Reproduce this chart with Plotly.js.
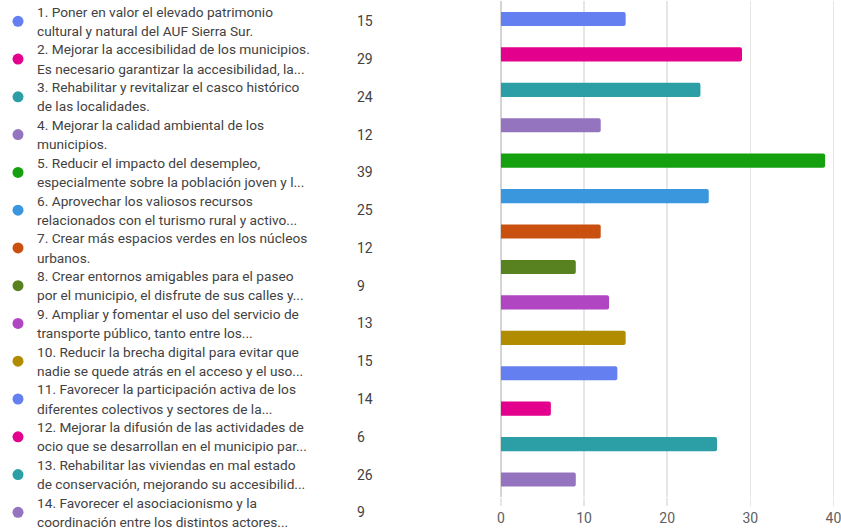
<!DOCTYPE html>
<html>
<head>
<meta charset="utf-8">
<script src="https://cdn.plot.ly/plotly-3.0.1.min.js"></script>
<style>html,body{margin:0;padding:0;background:#fff;}#chart{width:841px;height:531px;}</style>
</head>
<body>
<div id="chart"></div>
<script>
const labels = [
  "1. Poner en valor el elevado patrimonio<br>cultural y natural del AUF Sierra Sur.",
  "2. Mejorar la accesibilidad de los municipios.<br>Es necesario garantizar la accesibilidad, la...",
  "3. Rehabilitar y revitalizar el casco histórico<br>de las localidades.",
  "4. Mejorar la calidad ambiental de los<br>municipios.",
  "5. Reducir el impacto del desempleo,<br>especialmente sobre la población joven y l...",
  "6. Aprovechar los valiosos recursos<br>relacionados con el turismo rural y activo...",
  "7. Crear más espacios verdes en los núcleos<br>urbanos.",
  "8. Crear entornos amigables para el paseo<br>por el municipio, el disfrute de sus calles y...",
  "9. Ampliar y fomentar el uso del servicio de<br>transporte público, tanto entre los...",
  "10. Reducir la brecha digital para evitar que<br>nadie se quede atrás en el acceso y el uso...",
  "11. Favorecer la participación activa de los<br>diferentes colectivos y sectores de la...",
  "12. Mejorar la difusión de las actividades de<br>ocio que se desarrollan en el municipio par...",
  "13. Rehabilitar las viviendas en mal estado<br>de conservación, mejorando su accesibilid...",
  "14. Favorecer el asociacionismo y la<br>coordinación entre los distintos actores..."
];
const values = [15, 29, 24, 12, 39, 25, 12, 9, 13, 15, 14, 6, 26, 9];
const colors = ["#647FF0", "#E3008C", "#2C9FA6", "#9474BE", "#15A10F", "#3A96DD", "#C9500F",
                "#588220", "#B146C2", "#B18C00", "#647FF0", "#E3008C", "#2C9FA6", "#9474BE"];
const xTicks = [0, 10, 20, 30, 40];

const idx = values.map((v, i) => i);
const font = "Segoe UI, Roboto, 'Noto Sans', sans-serif";

const traces = [
  {
    type: "bar", orientation: "h",
    x: values, y: idx,
    marker: {color: colors, cornerradius: 2, line: {width: 0}},
    xaxis: "x", yaxis: "y",
    hoverinfo: "none"
  },
  {
    type: "scatter", mode: "markers",
    x: idx.map(() => 18), y: idx,
    marker: {color: colors, size: 11},
    xaxis: "x2", yaxis: "y2",
    hoverinfo: "none"
  }
];

const halfLine = 9.6 / 37.77;
const annotations = [];
labels.forEach((t, i) => {
  const lines = t.split("<br>");
  lines.forEach((ln, k) => {
    annotations.push({
      xref: "x2", yref: "y2", x: 35, y: i + (k === 0 ? -halfLine : halfLine), text: ln, showarrow: false,
      xanchor: "left", yanchor: "middle", align: "left",
      font: {family: font, size: 13.7, color: "#424242"}
    });
  });
  annotations.push({
    xref: "x2", yref: "y2", x: 355, y: i, text: String(values[i]), showarrow: false,
    xanchor: "left", yanchor: "middle", align: "left",
    font: {family: font, size: 14, color: "#424242"}
  });
});

const layout = {
  width: 841, height: 531,
  margin: {l: 0, r: 0, t: 0, b: 0},
  paper_bgcolor: "#fff", plot_bgcolor: "#fff",
  showlegend: false,
  bargap: 0.6,
  xaxis: {
    domain: [501/841, (501 + 83.1*4.03)/841], range: [0, 40.3], tickvals: xTicks,
    showgrid: true, gridcolor: "#e6e6e6", gridwidth: 1.5,
    zeroline: true, zerolinecolor: "#d4d4d4", zerolinewidth: 2,
    ticks: "outside", ticklen: 8, tickcolor: "#e6e6e6", tickwidth: 1.5,
    tickfont: {family: font, size: 14, color: "#616161"},
    ticklabeloverflow: "allow",
    automargin: false, fixedrange: true
  },
  yaxis: {
    domain: [(531-497.2)/531, (531-1.3)/531], range: [13.5, -0.5],
    showticklabels: false, showgrid: false, zeroline: false,
    automargin: false, fixedrange: true
  },
  xaxis2: {
    domain: [0, 496/841], range: [0, 496], visible: false, fixedrange: true
  },
  yaxis2: {
    domain: [0, 1], range: [13.495, -0.564], anchor: "x2", visible: false, fixedrange: true
  },
  annotations: annotations
};

Plotly.newPlot("chart", traces, layout, {displayModeBar: false, staticPlot: true});
</script>
</body>
</html>
